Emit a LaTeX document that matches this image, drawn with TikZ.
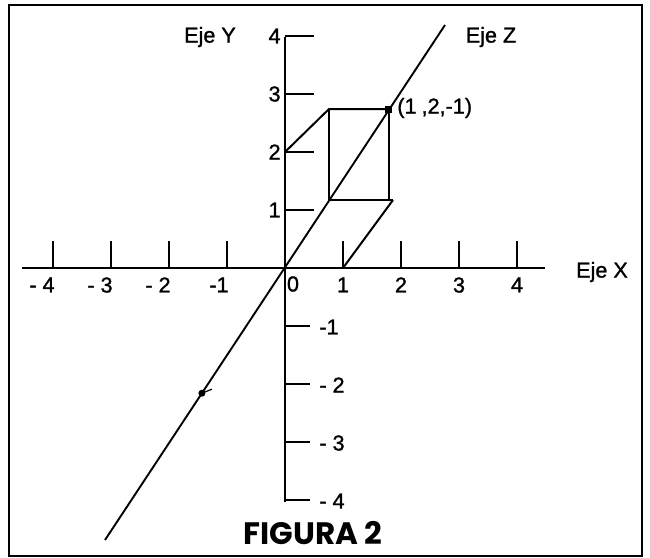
\documentclass[tikz,border=0pt]{standalone}
\usepackage{fontspec}
\usetikzlibrary{calc}
\setmainfont{Liberation Sans}
\newfontfamily\lblfont{Liberation Sans}[FakeBold=1.2]
\newfontfamily\figfont{Poppins}
\begin{document}
\begin{tikzpicture}[x=0.5pt,y=-0.5pt,
  axis/.style={line width=1.2pt},
  thin axis/.style={line width=0.95pt},
  boxline/.style={line width=1pt},
  lbl/.style={font=\lblfont\fontsize{10.8}{13}\selectfont, inner sep=0pt},
  title/.style={font=\figfont\bfseries\fontsize{15.5}{18}\selectfont, inner sep=0pt}]
\useasboundingbox (0,0) rectangle (650,558);
\fill[white] (0,0) rectangle (650,558);
\draw[line width=1.1pt] (9,5) rectangle (642,556);
% axes
\coordinate (xl) at (22,268);
\coordinate (xr) at (545,268);
\coordinate (yt) at (285,37);
\coordinate (yb) at (285,502);
\coordinate (zb) at (105,540);
\coordinate (zt) at (445,25);
\draw[axis] (xl) -- (xr);
\draw[axis] (yt) -- (yb);
\draw[thin axis] (zb) -- (zt);
% x ticks
\foreach \i in {-4,-3,-2,-1,1,2,3,4}
  \draw[axis] (285+58*\i,268) -- ++(0,-27);
\foreach \i/\t in {-4/{-\hspace{3pt}4},-3/{-\hspace{3pt}3},-2/{-\hspace{3pt}2},-1/{-1}}
  \node[lbl,anchor=north east] (xlab\i) at (285+58*\i+2,277) {\t};
\foreach \i in {1,2,3,4}
  \node[lbl,anchor=north] (xlab\i) at (285+58*\i,277) {\i};
\node[lbl] (xlab0) at (293,284) {0};
% y ticks
\foreach \i in {1,2,3,4}
  {\draw[axis] (285,268-58*\i) -- ++(29,0);
   \node[lbl,anchor=east] (ylab\i) at (281,268-58*\i) {\i};}
\foreach \i/\t in {1/{-1},2/{-\hspace{3pt}2},3/{-\hspace{3pt}3},4/{-\hspace{3pt}4}}
  {\draw[axis] (285,268+58*\i) -- ++(25,0);
   \node[lbl,anchor=west] (ynlab\i) at (319,269+58*\i) {\t};}
% box to point (1,2,-1)
\coordinate (A) at (285,152);
\coordinate (B) at (329,109);
\coordinate (P) at (389,109);
\coordinate (C) at (329,200);
\coordinate (D) at (393,200);
\coordinate (Pd) at (389,200);
\coordinate (X1) at (343,268);
\draw[boxline] (A) -- (B) -- (P);
\draw[boxline] (B) -- (C) -- (D);
\draw[boxline] (P) -- (Pd);
\draw[boxline] (X1) -- (D);
\fill (P) ++(-3.5,-3.5) rectangle ++(7,7);
\node[lbl,anchor=west] (plab) at (397,108) {(1\hspace{2.5pt},2,-1)};
% lower dot on z axis
\coordinate (Q) at ($(zb)!0.285!(zt)$);
\fill (Q) circle (3.5);
\draw[line width=0.6pt] (Q) -- ++(10,-4);
% axis names
\node[lbl] (ey) at (210,37) {Eje Y};
\node[lbl] (ez) at (491,37) {Eje Z};
\node[lbl] (ex) at (602,272) {Eje X};
\node[title] (fig) at (313,533) {FIGURA 2};
\end{tikzpicture}
\end{document}
